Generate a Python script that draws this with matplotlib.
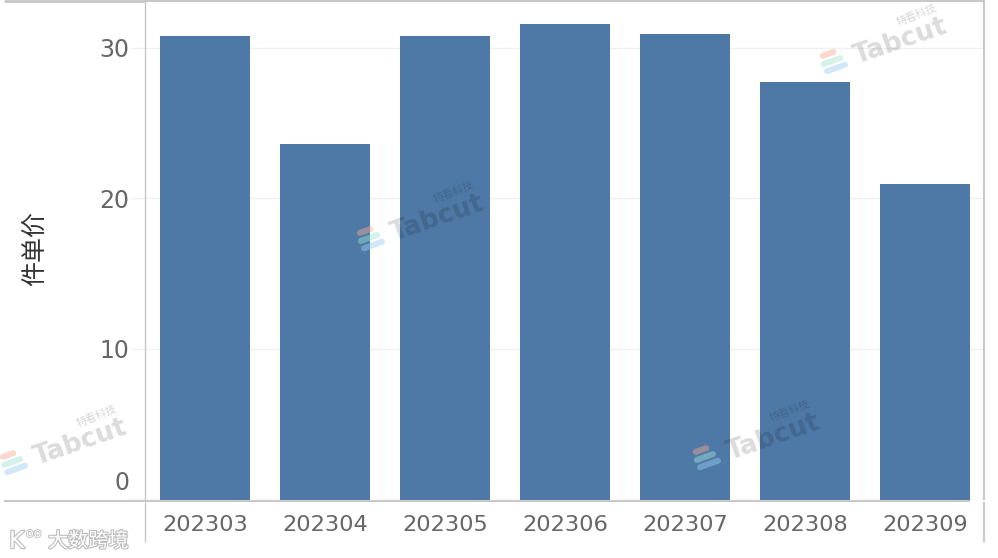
#!/usr/bin/env python3
"""
    Unit price per month bar chart
"""

from matplotlib import pyplot as plt
from matplotlib import patches
from matplotlib import patheffects
from matplotlib.transforms import Affine2D, ScaledTranslation

months = ["202303", "202304", "202305", "202306", "202307", "202308", "202309"]
unit_price = [30.8, 23.6, 30.8, 31.6, 30.9, 27.75, 20.95]
y_ticks = [0, 10, 20, 30]
y_label = "件单价"
watermark_origins = [(2, 467), (359, 243), (695, 462), (822, 66)]

W, H = 998, 558
BAR = "#4e79a7"
LINE = "#c8c8c8"
GRID = "#f0f0f0"
TEXT = "#666666"
CJK = ["Noto Sans CJK SC", "DejaVu Sans"]


def vline(fig, x, y0, y1, color=LINE, lw=1.0):
    fig.add_artist(plt.Line2D([x / W, x / W], [1 - y0 / H, 1 - y1 / H], color=color, lw=lw,
                              solid_capstyle="butt"))


def hline(fig, y, x0, x1, color=LINE, lw=1.0):
    fig.add_artist(plt.Line2D([x0 / W, x1 / W], [1 - y / H, 1 - y / H], color=color, lw=lw,
                              solid_capstyle="butt"))


def watermark(fig, x0, y0):
    # three pale stripes, then the name, all tilted the same way
    stripes = [(6, -12, 17, "#f8a890"), (10, -5, 23, "#a0e4d0"), (14, 2, 25, "#98ccf0")]
    for dx, dy, length, c in stripes:
        cx, cy = x0 + dx, H - (y0 + dy)
        stripe = patches.FancyBboxPatch((cx - length / 2, cy - 3), length, 6,
                                        boxstyle="round,pad=0,rounding_size=3",
                                        facecolor=c, edgecolor="none", alpha=0.45,
                                        transform=Affine2D().rotate_deg_around(cx, cy, 20), zorder=6)
        fig.add_artist(stripe)
    fig.text((x0 + 35) / W, 1 - (y0 - 2) / H, "Tabcut", fontsize=18.8, fontweight="bold", color="black",
             alpha=0.14, family="DejaVu Sans", rotation=19, rotation_mode="anchor",
             ha="left", va="baseline", zorder=6)
    fig.text((x0 + 76) / W, 1 - (y0 - 40) / H, "特看科技", fontsize=7.7, color="black", alpha=0.16,
             family=CJK, rotation=22, rotation_mode="anchor", ha="left", va="baseline", zorder=6)


def main() -> int:
    fig = plt.figure(figsize=(W / 100, H / 100), dpi=100, facecolor="white")
    ax = fig.add_axes([144.5 / W, 1 - 499.5 / H, (983.5 - 144.5) / W, (499.5 - 1) / H])

    positions = list(range(len(months)))
    ax.bar(positions, unit_price, width=0.75, color=BAR, zorder=3)
    ax.set_xlim(-0.504, 6.488)
    ax.set_ylim(0, 33.12)

    ax.set_yticks(y_ticks)
    ax.set_yticklabels([str(v) for v in y_ticks], fontsize=17, color=TEXT, family="DejaVu Sans")
    ax.set_xticks(positions)
    ax.set_xticklabels(months, fontsize=16.2, color=TEXT, family="DejaVu Sans")
    ax.tick_params(axis="x", length=0, pad=11)
    ax.tick_params(axis="y", length=10, width=1, color=GRID, pad=1)
    zero = ax.get_yticklabels()[0]
    zero.set_va("bottom")
    zero.set_transform(zero.get_transform() + ScaledTranslation(0, 3 / 72, fig.dpi_scale_trans))
    ax.grid(axis="y", color=GRID, lw=1, zorder=0)
    ax.set_axisbelow(True)
    for s in ax.spines.values():
        s.set_visible(False)

    ax.set_ylabel(y_label, fontsize=18, color="#333333", family=CJK, labelpad=0)
    ax.yaxis.set_label_coords((48 - 144.5) / (983.5 - 144.5), 1 - (248 - 1) / 498.5)

    # frame lines sit outside the plot area in the original
    hline(fig, 0.5, 4, 144, lw=2)
    hline(fig, 1, 144, 984, lw=1.5)
    hline(fig, 500.5, 4, 970, lw=1.5)
    vline(fig, 144.5, 0, 500)
    vline(fig, 144.5, 502, 542)
    vline(fig, 984, 0, 500, lw=1.5)
    vline(fig, 984, 502, 542, lw=1.5)

    for x0, y0 in watermark_origins:
        watermark(fig, x0, y0)

    # bottom left site mark
    t = fig.text(48 / W, 1 - 547 / H, "大数跨境", fontsize=14.5, color="white", family=CJK,
                 ha="left", va="baseline", zorder=7)
    t.set_path_effects([patheffects.withStroke(linewidth=1.6, foreground="#bdbdbd")])
    t = fig.text(9 / W, 1 - 548 / H, "K", fontsize=17, color="white", family="DejaVu Sans",
                 ha="left", va="baseline", zorder=7)
    t.set_path_effects([patheffects.withStroke(linewidth=1.6, foreground="#bdbdbd")])
    t = fig.text(26 / W, 1 - 537 / H, "oo", fontsize=9, color="white", family="DejaVu Sans",
                 ha="left", va="baseline", zorder=7)
    t.set_path_effects([patheffects.withStroke(linewidth=1.2, foreground="#bdbdbd")])

    fig.savefig("out.png", dpi=100)
    plt.close(fig)

    return 0


if __name__ == "__main__":
    raise SystemExit(main())
